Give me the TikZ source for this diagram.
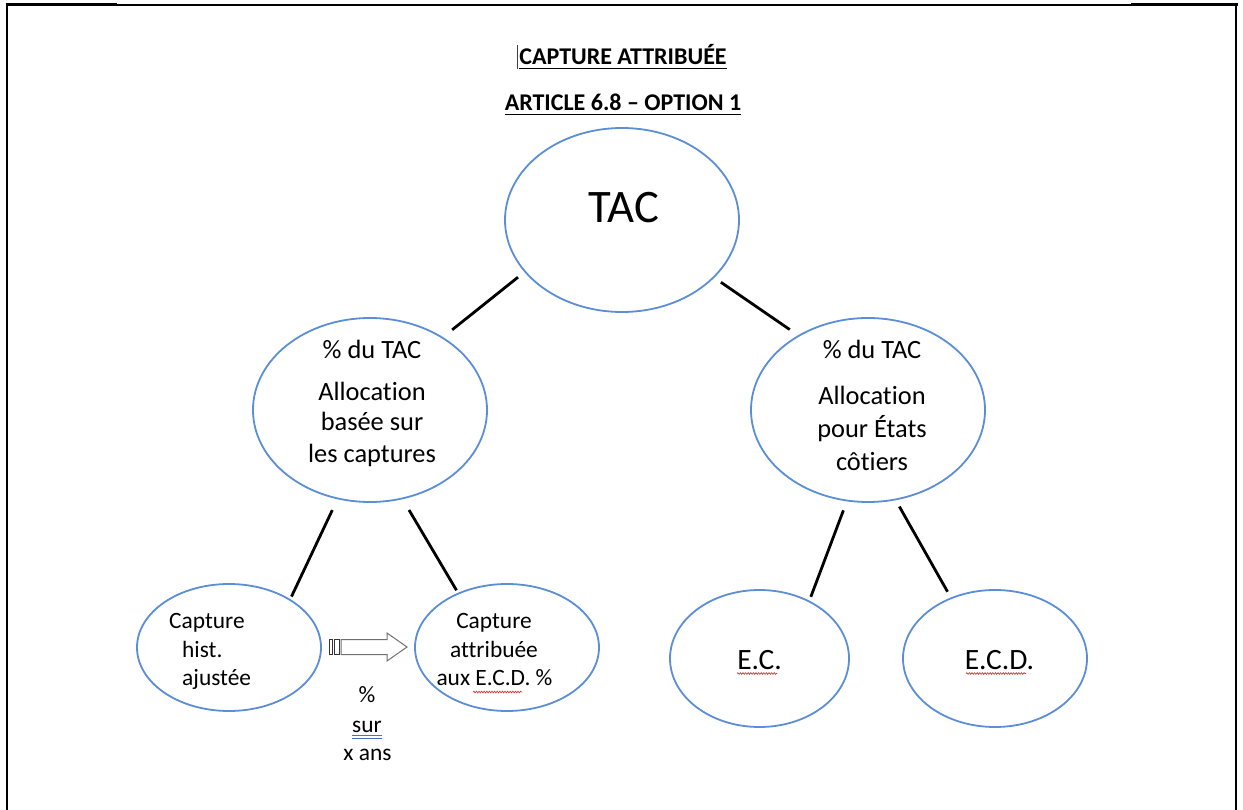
\documentclass[tikz,border=0pt]{standalone}
\usepackage{fontspec}
\setmainfont{Carlito}[Ligatures=NoCommon]
\usetikzlibrary{shapes.geometric,decorations.pathmorphing}
\definecolor{ellblue}{HTML}{5B8ED6}
\definecolor{arrgray}{HTML}{707070}
\definecolor{wavred}{HTML}{E03535}
\definecolor{dblue}{HTML}{4A6FC0}
\begin{document}
\begin{tikzpicture}[x=1pt,y=-1pt,
  ell/.style={ellipse,draw=ellblue,line width=1.8pt,inner sep=0pt,outer sep=0pt},
  conn/.style={line width=2.8pt,black},
  txt/.style={inner sep=0pt,anchor=base},
  titlefont/.style={font=\bfseries\fontsize{24}{28}\selectfont},
  midfont/.style={font=\fontsize{26.4}{32}\selectfont},
  lowfont/.style={font=\fontsize{23.4}{28}\selectfont},
  ecfont/.style={font=\fontsize{29.5}{35}\selectfont},
  wavy/.style={wavred,line width=0.7pt,decorate,decoration={snake,amplitude=0.8pt,segment length=2.6pt}},
  uline/.style={line width=1.4pt,black}]
\useasboundingbox (0,0) rectangle (1243,810);
% frame
\draw[line width=1.2pt] (7,5) -- (1236,5);
\draw[line width=3pt] (5.5,5) -- (117,5);
\draw[line width=3pt] (1131,5) -- (1237.5,5);
\draw[line width=1.6pt] (7,5) -- (7,810);
\draw[line width=1.6pt] (1236,5) -- (1236,810);
% titles
\node[txt,titlefont] (t1) at (623,65) {CAPTURE ATTRIBUÉE};
\draw[uline] ([yshift=-3.3pt]t1.base west) -- ([yshift=-3.3pt]t1.base east);
\node[txt,titlefont] (t2) at (623,111) {ARTICLE 6.8 – OPTION 1};
\draw[uline] ([yshift=-3.5pt]t2.base west) -- ([yshift=-3.5pt]t2.base east);
\coordinate (cur1) at ([xshift=-1.5pt,yshift=20pt]t1.base west);
\coordinate (cur2) at ([xshift=-1.5pt,yshift=-4pt]t1.base west);
\draw[line width=0.8pt,black!75] (cur1) -- (cur2);
% ellipses
\node[ell,minimum width=234pt,minimum height=184pt] (tac) at (622,220) {};
\node[ell,minimum width=234pt,minimum height=184pt] (alloc1) at (370,410) {};
\node[ell,minimum width=234pt,minimum height=184pt] (alloc2) at (868,410) {};
\node[ell,minimum width=184pt,minimum height=127pt] (hist) at (229,647.5) {};
\node[ell,minimum width=184pt,minimum height=127pt] (ecdp) at (507,647.5) {};
\node[ell,minimum width=179pt,minimum height=137pt] (ec) at (759.5,658.5) {};
\node[ell,minimum width=184pt,minimum height=137pt] (ecd) at (995,658.5) {};
% connectors
\draw[conn,shorten <=9.1pt,shorten >=12.6pt] (tac.208.7) -- (alloc1.45.7);
\draw[conn,shorten <=8.9pt,shorten >=11pt] (tac.328.6) -- (alloc2.133.2);
\draw[conn,shorten <=12.9pt,shorten >=3.7pt] (alloc1.250.9) -- (hist.38.4);
\draw[conn,shorten <=13.4pt,shorten >=3.8pt] (alloc1.290.1) -- (ecdp.132.9);
\draw[conn,shorten <=10.5pt,shorten >=5pt] (alloc2.257.7) -- (ec.49.6);
\draw[conn,shorten <=8.2pt,shorten >=7.5pt] (alloc2.287.7) -- (ecd.126);
% TAC
\node[txt,font=\fontsize{46.6}{56}\selectfont] (tactxt) at (624,223) {TAC};
% left middle
\node[txt,midfont] (a1l1) at (372,359) {\% du TAC};
\node[txt,midfont] (a1l2) at (372,400) {Allocation};
\node[txt,midfont] (a1l3) at (372,431) {basée sur};
\node[txt,midfont] (a1l4) at (372,462) {les captures};
% right middle
\node[txt,midfont] (a2l1) at (872,359) {\% du TAC};
\node[txt,midfont] (a2l2) at (872,404) {Allocation};
\node[txt,midfont] (a2l3) at (872,437) {pour États};
\node[txt,midfont] (a2l4) at (872,470) {côtiers};
% bottom left
\node[txt,lowfont,anchor=base west] (h1) at (169,628) {Capture};
\node[txt,lowfont,anchor=base west] (h2) at (182,657) {hist.};
\node[txt,lowfont,anchor=base west] (h3) at (182,685) {ajustée};
% bottom second
\node[txt,lowfont] (c1) at (494,628) {Capture};
\node[txt,lowfont] (c2) at (494,657) {attribuée};
\node[txt,lowfont] (c3) at (494.5,685) {aux E.C.D. \%};
\draw[wavy] (473,692) -- (522,692);
% E.C. / E.C.D.
\node[txt,ecfont] (ectxt) at (759.5,669) {E.C.};
\draw[wavy] (737,673.5) -- (777,673.5);
\node[txt,ecfont] (ecdtxt) at (999.5,669) {E.C.D.};
\draw[wavy] (966,673.5) -- (1026,673.5);
% arrow
\draw[arrgray,line width=1pt,fill=white] (341,639.5) -- (387,639.5) -- (387,633) -- (407,647) -- (387,661) -- (387,654.5) -- (341,654.5) -- cycle;
\draw[black!80,line width=0.8pt] (329,639.5) rectangle (332,654.5);
\draw[black!80,line width=0.8pt] (334,639.5) rectangle (339.5,654.5);
% under arrow
\node[txt,lowfont] (pct) at (367,702) {\%};
\node[txt,lowfont] (sur) at (367,732) {sur};
\draw[dblue,line width=0.8pt] (352,735.5) -- (382,735.5);
\draw[dblue,line width=0.8pt] (352,738) -- (382,738);
\node[txt,lowfont] (xans) at (367.5,760) {x ans};
\end{tikzpicture}
\end{document}
